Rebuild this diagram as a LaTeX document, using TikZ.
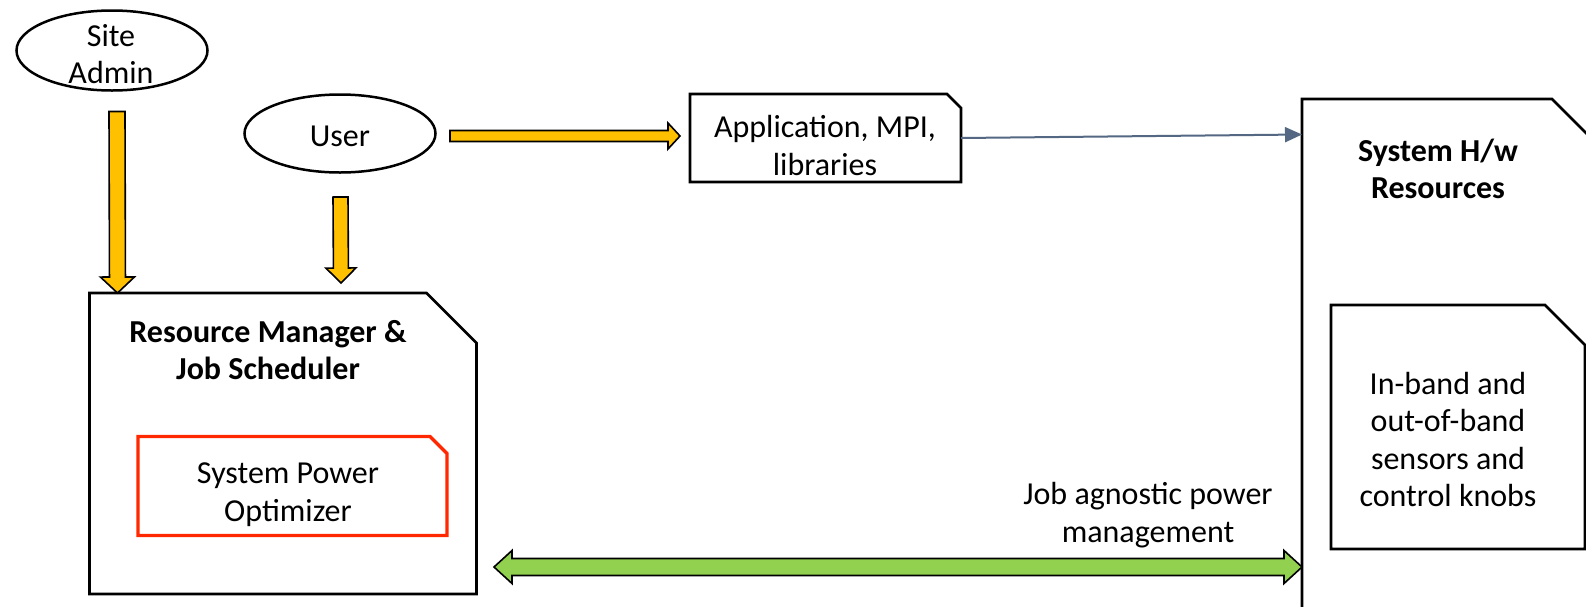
\documentclass[tikz,border=0pt]{standalone}
\usepackage{fontspec}
\setmainfont{Carlito}
\usetikzlibrary{shapes.geometric,calc,arrows.meta}
\definecolor{ayellow}{RGB}{255,192,0}
\definecolor{agreen}{RGB}{146,208,80}
\definecolor{ared}{RGB}{255,40,0}
\definecolor{aslate}{RGB}{84,104,132}
\tikzset{
  txt/.style={font=\fontsize{32}{37.5}\selectfont, align=center, inner sep=0pt, outer sep=0pt},
  btxt/.style={font=\fontsize{32}{36.5}\selectfont\bfseries, align=center, inner sep=0pt, outer sep=0pt},
  actor/.style={ellipse, draw=black, line width=2.5pt, inner sep=0pt, outer sep=0pt},
  frame/.style={rectangle, inner sep=0pt, outer sep=0pt},
  edgeline/.style={draw=black, line width=2.6pt, fill=white, line join=miter},
  redline/.style={draw=ared, line width=3.4pt, fill=white, line join=miter},
  yarrow/.style={fill=ayellow, draw=black, line width=1.6pt, line join=miter},
  garrow/.style={fill=agreen, draw=black, line width=1.6pt, line join=miter},
  thinarrow/.style={draw=aslate, line width=2pt, -{Triangle[length=17pt,width=15pt]}},
}
\newcommand\cutbox[3]{%
  \draw[#1] (#2.south west) -- (#2.north west) -- ([xshift=-#3]#2.north east)
    -- ([yshift=-#3]#2.north east) -- (#2.south east) -- cycle;}
\newcommand\blkarrow[6]{%
  \path ($(#3)!#6!(#2)$) coordinate (bh);
  \draw[#1] ($(#2)!#4!90:(#3)$) -- ($(bh)!#4!90:(#3)$) -- ($(bh)!#5!90:(#3)$) -- (#3)
    -- ($(bh)!#5!-90:(#3)$) -- ($(bh)!#4!-90:(#3)$) -- ($(#2)!#4!-90:(#3)$) -- cycle;}
\newcommand\dblarrow[6]{%
  \path ($(#2)!#6!(#3)$) coordinate (ha) ($(#3)!#6!(#2)$) coordinate (hb);
  \draw[#1] (#2) -- ($(ha)!#5!90:(#3)$) -- ($(ha)!#4!90:(#3)$) -- ($(hb)!#4!90:(#3)$)
    -- ($(hb)!#5!90:(#3)$) -- (#3) -- ($(hb)!#5!-90:(#3)$) -- ($(hb)!#4!-90:(#3)$)
    -- ($(ha)!#4!-90:(#3)$) -- ($(ha)!#5!-90:(#3)$) -- cycle;}
\begin{document}
\begin{tikzpicture}[x=1pt,y=-1pt]
\useasboundingbox (0,0) rectangle (1586,606);
\fill[white] (0,0) rectangle (1586,606);
\clip (0,0) rectangle (1586,606);

% actors
\node[actor, minimum width=191pt, minimum height=80pt] (sa) at (112,50.5) {};
\node[txt] (satxt) at (111,54) {Site\\Admin};
\node[actor, minimum width=191pt, minimum height=78pt] (user) at (340,133.5) {};
\node[txt] (usertxt) at (340,136.5) {User};

% frames
\node[frame, minimum width=271pt, minimum height=88pt] (app) at (825.5,138) {};
\cutbox{edgeline}{app}{14pt}
\node[txt] (apptxt) at (825,145.5) {Application, MPI,\\libraries};

\node[frame, minimum width=298pt, minimum height=531pt] (sys) at (1451,364.5) {};
\cutbox{edgeline}{sys}{48pt}
\node[btxt] (systxt) at (1438,169) {System H/w\\Resources};

\node[frame, minimum width=254pt, minimum height=244pt] (knob) at (1458,427) {};
\cutbox{edgeline}{knob}{40pt}
\node[txt] (knobtxt) at (1448,439.5) {In-band and\\out-of-band\\sensors and\\control knobs};

\node[frame, minimum width=387pt, minimum height=301pt] (rm) at (283,443.5) {};
\cutbox{edgeline}{rm}{50pt}
\node[btxt] (rmtxt) at (268,350) {Resource Manager \&\\Job Scheduler};

\node[frame, minimum width=309pt, minimum height=99pt] (spo) at (292.5,486) {};
\cutbox{redline}{spo}{17pt}
\node[txt] (spotxt) at (288,494.5) {System Power\\Optimizer};

% connectors
\coordinate (saA) at ($(sa.south)+(5,21)$);
\coordinate (saB) at ($(rm.north west)+(28,0)$);
\blkarrow{yarrow}{saA}{saB}{8pt}{17pt}{16pt}

\coordinate (uA) at ($(user.south)+(0.5,24.5)$);
\coordinate (uB) at ($(rm.north west)+(251.5,-10)$);
\blkarrow{yarrow}{uA}{uB}{7.5pt}{15pt}{15pt}

\coordinate (urA) at ($(user.east)+(14.5,2.5)$);
\coordinate (urB) at ($(app.west)+(-10,-2)$);
\blkarrow{yarrow}{urA}{urB}{5.5pt}{13pt}{12pt}

\coordinate (asB) at ($(sys.north west)+(0,35.5)$);
\draw[thinarrow] (app.east) -- (asB);

\coordinate (gA) at ($(rm.south east)+(17.5,-27)$);
\coordinate (gB) at ($(sys.north west)+(0,468)$);
\dblarrow{garrow}{gA}{gB}{8.5pt}{16.5pt}{18pt}
\node[txt] (jobtxt) at (1148,515) {Job agnostic power\\management};
\end{tikzpicture}
\end{document}
